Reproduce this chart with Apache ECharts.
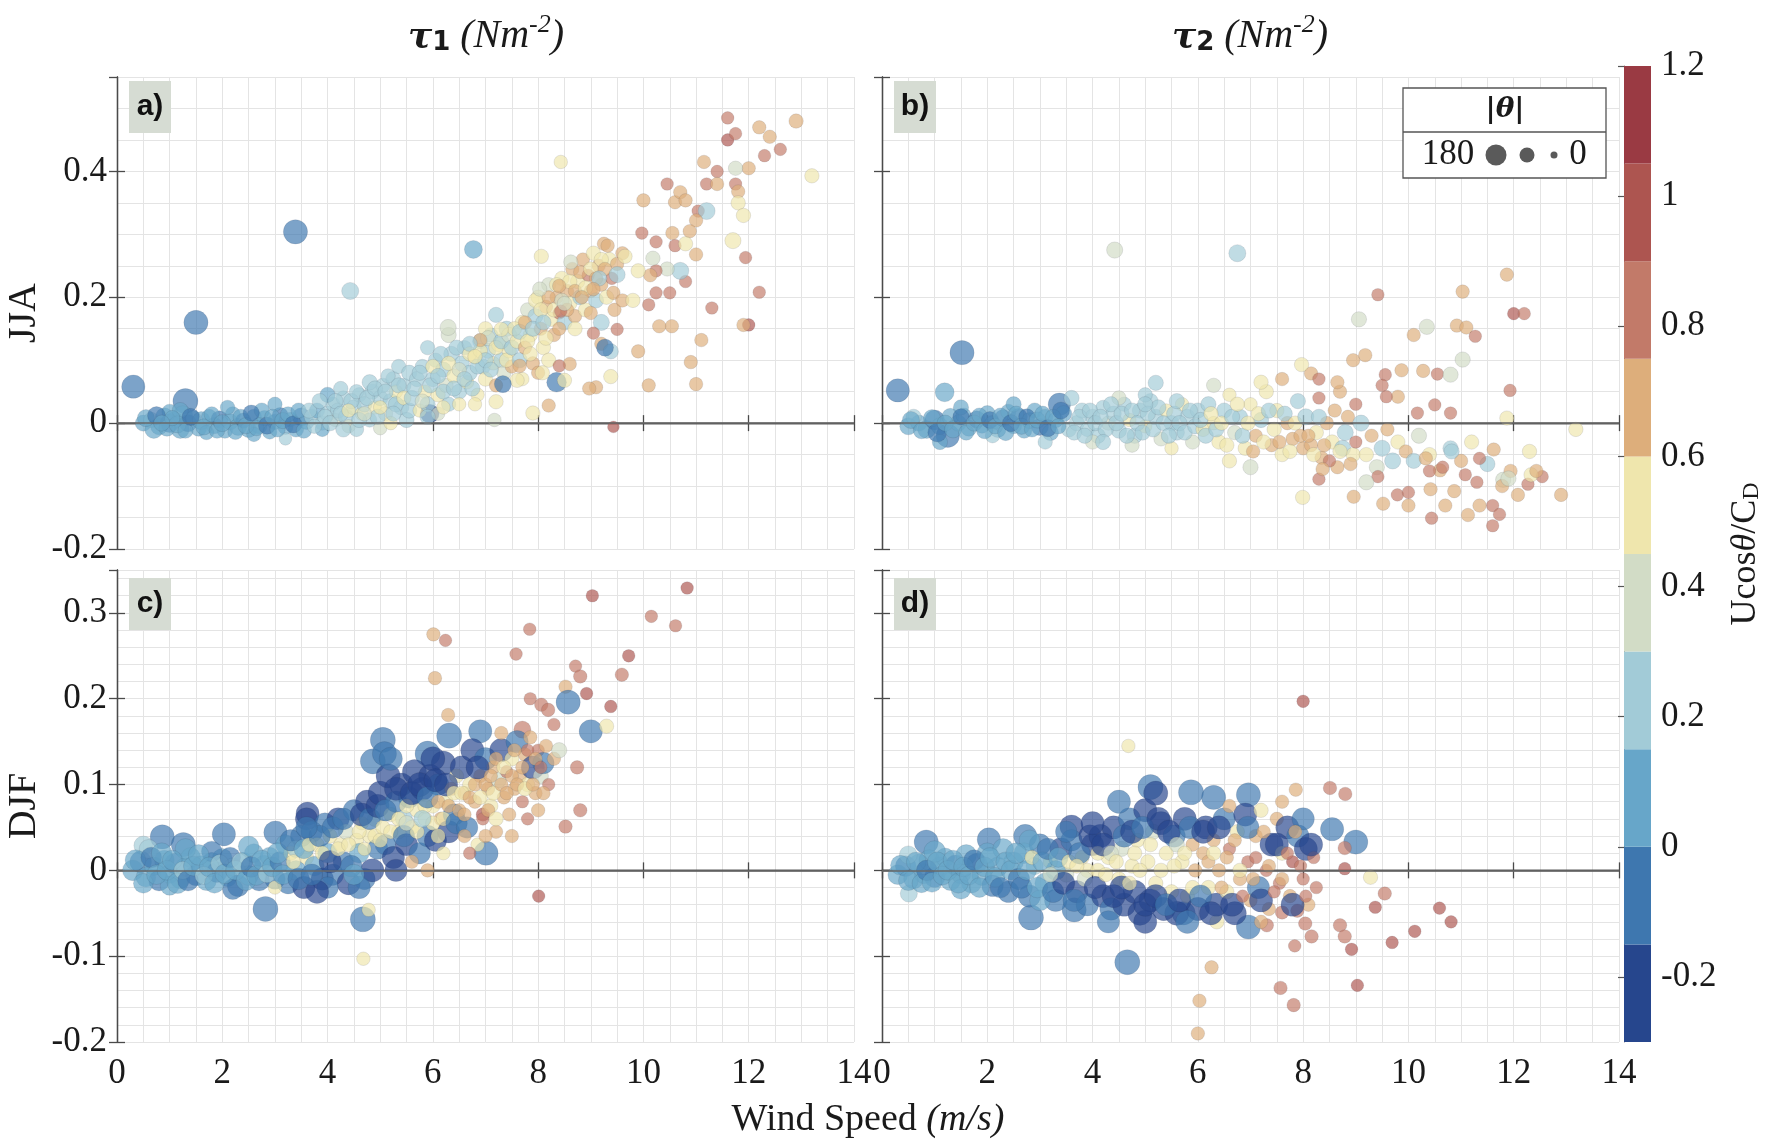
<!DOCTYPE html>
<html>
<head>
<meta charset="UTF-8">
<title>Wind stress vs wind speed</title>
<script src="https://cdn.jsdelivr.net/npm/echarts@6/dist/echarts.min.js"></script>
<style>
  html, body { margin: 0; padding: 0; background: #fff; }
  #chart { width: 1772px; height: 1146px; }
</style>
</head>
<body>
<div id="chart"></div>
<script>
// every point: [wind speed (m/s), stress (N m-2), Ucos(theta)/Cd, |theta| (deg)]
const jjaTau1 = [
  [0.31,0.058,-0.04,150],[1.3,0.035,-0.03,170],[1.5,0.16,-0.05,160],[3.39,0.304,-0.12,160],[6.77,0.276,0.12,90],
  [4.43,0.21,0.22,80],[5.94,0.015,-0.25,100],[8.35,0.065,-0.1,110],[8.43,0.415,0.52,40],[9.43,-0.006,0.9,20],[13.2,0.393,0.52,50],
  [0.5,0,0.07,70],[0.65,0.005,0.22,60],[0.8,-0.005,0.07,80],[0.9,0.01,0.07,90],[1.0,0,-0.07,100],[1.1,0.005,0.07,70],
  [1.2,-0.01,0.07,90],[1.25,0.012,0.07,110],[1.35,0,-0.07,80],[1.45,0.008,0.07,60],[1.55,-0.008,0.07,70],[1.6,0.004,0.07,90],
  [1.75,0.01,0.07,60],[1.85,-0.004,0.07,70],[1.95,0.006,-0.07,80],[2.05,-0.012,0.07,60],[2.15,0.002,0.07,70],[2.2,0.014,0.07,60],
  [2.3,-0.006,0.07,80],[2.4,0.004,-0.07,60],[2.5,-0.01,0.07,70],[2.6,0.01,0.07,60],[2.7,-0.004,0.07,70],[2.8,0.008,0.07,60],
  [2.9,-0.014,0.07,50],[3.0,0.002,0.07,60],[3.1,0.012,-0.07,70],[3.2,-0.006,0.07,60],[3.3,0.006,0.07,50],[3.4,-0.01,0.07,60],
  [3.5,0.01,-0.07,90],[3.6,0.002,0.07,60],[2.1,0.025,0.07,50],[1.0,0.018,0.07,60],[3.2,-0.025,0.22,30],[1.7,-0.015,0.07,50],
  [2.6,-0.018,0.07,50],[3.0,0.03,0.07,50],[2.75,0.02,0.07,60],[1.2,0.02,0.07,70],[0.7,-0.01,0.07,90],
  [0.55,0.008,0.07,80],[0.75,0.012,-0.07,90],[0.95,-0.008,0.07,70],[1.15,-0.002,0.07,80],[1.3,-0.012,0.07,60],[1.4,0.01,-0.07,80],
  [1.65,-0.006,0.07,70],[1.8,0.014,0.07,60],[1.9,-0.012,0.07,60],[2.0,0.0,0.07,80],[2.25,-0.014,0.07,60],[2.35,0.01,0.07,60],
  [2.45,-0.004,0.07,70],[2.55,0.016,-0.07,70],[2.65,-0.008,0.07,60],[2.85,-0.004,-0.07,80],[2.95,0.01,0.07,60],[3.05,-0.01,0.07,60],
  [3.15,0.004,0.07,70],[3.25,0.014,0.07,60],[3.35,-0.002,-0.07,80],[3.45,0.02,0.07,60],[3.55,-0.012,0.07,60],[1.05,0.008,0.07,60],
  [0.85,0.0,0.07,70],
  [3.7,0.01,0.22,60],[3.8,0.02,0.07,60],[3.9,0.0,0.22,50],[4.0,0.015,0.22,60],[4.1,0.03,0.22,50],[4.15,0.005,0.37,40],
  [4.2,0.02,0.22,60],[4.3,0.04,0.22,50],[4.35,0.01,0.22,60],[4.4,-0.005,0.37,40],[4.5,0.025,0.22,60],[4.6,0.045,0.22,50],
  [4.65,0.015,0.52,40],[4.7,0.03,0.22,60],[4.8,0.005,0.22,50],[4.85,0.05,0.22,60],[4.9,0.025,0.52,40],[5.0,0.04,0.22,60],
  [5.05,0.06,0.22,50],[5.1,0.015,0.37,50],[5.2,0.035,0.22,60],[5.25,0.07,0.22,60],[5.3,0.05,0.52,40],[5.4,0.025,0.22,60],
  [5.45,0.06,0.22,50],[5.5,0.005,0.22,60],[4.0,0.045,0.07,60],[4.8,0.065,0.22,60],[4.25,0.055,0.22,50],[3.9,-0.01,0.07,50],
  [4.55,-0.01,0.22,50],[5.0,-0.008,0.37,40],[5.2,0.0,0.52,40],[5.35,0.09,0.22,50],
  [3.65,0.02,0.22,60],[3.75,-0.005,0.22,50],[3.85,0.035,0.22,60],[3.95,0.01,0.22,60],[4.05,0.0,0.22,60],[4.15,0.035,0.22,60],
  [4.25,0.015,0.22,60],[4.45,0.035,0.22,60],[4.55,0.05,0.22,50],[4.6,0.005,0.22,60],[4.75,0.04,0.22,60],[4.9,0.055,0.22,60],
  [4.95,0.01,0.22,60],[5.1,0.05,0.22,60],[5.15,0.075,0.22,50],[5.3,0.03,0.22,60],[5.35,0.06,0.22,60],[5.45,0.04,0.52,50],
  [5.55,0.02,0.22,60],[5.55,0.08,0.22,60],[4.4,0.02,0.52,40],[4.7,0.015,0.37,50],[5.0,0.025,0.52,40],[4.3,-0.01,0.22,60],
  [5.25,0.015,0.22,60],
  [5.6,0.04,0.22,60],[5.7,0.07,0.22,60],[5.75,0.02,0.52,40],[5.8,0.09,0.22,50],[5.85,0.05,0.52,40],[5.9,0.03,0.22,60],
  [6.0,0.07,0.22,60],[6.05,0.1,0.22,50],[6.1,0.045,0.52,50],[6.2,0.085,0.22,60],[6.25,0.06,0.37,50],[6.3,0.03,0.22,50],
  [6.35,0.11,0.22,60],[6.4,0.075,0.52,50],[6.5,0.05,0.22,60],[6.55,0.095,0.22,60],[6.6,0.12,0.22,50],[6.65,0.065,0.52,40],
  [6.7,0.08,0.22,60],[6.8,0.105,0.52,50],[6.85,0.045,0.52,40],[6.9,0.13,0.22,60],[6.95,0.09,0.22,60],[7.0,0.07,0.52,50],
  [7.05,0.115,0.22,60],[7.1,0.14,0.22,50],[7.15,0.095,0.52,40],[7.2,0.06,0.67,40],[7.25,0.125,0.52,50],[7.3,0.1,0.22,60],
  [7.35,0.08,0.37,50],[7.4,0.15,0.22,60],[7.45,0.115,0.52,50],[7.5,0.09,0.67,40],[6.3,0.14,0.37,60],[5.9,0.12,0.22,50],
  [6.8,0.03,0.52,40],[6.1,0.015,0.37,40],[7.0,0.15,0.52,50],
  [5.65,0.055,0.22,60],[5.75,0.08,0.22,60],[5.8,0.035,0.37,50],[5.95,0.06,0.22,60],[6.0,0.09,0.52,50],[6.1,0.075,0.22,60],
  [6.15,0.11,0.22,60],[6.2,0.05,0.22,60],[6.3,0.095,0.52,50],[6.4,0.055,0.22,60],[6.45,0.12,0.22,60],[6.5,0.085,0.37,50],
  [6.6,0.07,0.22,60],[6.7,0.11,0.52,50],[6.75,0.055,0.22,60],[6.85,0.09,0.22,60],[6.9,0.115,0.52,50],[7.0,0.1,0.22,60],
  [7.05,0.135,0.37,60],[7.1,0.085,0.22,60],[7.2,0.12,0.52,50],[7.3,0.13,0.22,60],[7.4,0.1,0.52,50],[7.45,0.14,0.37,60],
  [7.5,0.12,0.22,60],[6.5,0.03,0.52,40],[6.2,0.025,0.52,40],[5.9,0.01,0.22,60],
  [7.6,0.13,0.52,50],[7.65,0.1,0.22,60],[7.7,0.16,0.52,50],[7.75,0.12,0.67,40],[7.8,0.18,0.37,50],[7.85,0.14,0.52,50],
  [7.9,0.095,0.67,40],[7.95,0.17,0.22,60],[8.0,0.2,0.52,50],[8.05,0.15,0.67,40],[8.1,0.12,0.52,50],[8.15,0.185,0.67,40],
  [8.2,0.22,0.37,50],[8.25,0.165,0.52,50],[8.3,0.14,0.67,40],[8.35,0.2,0.67,40],[8.4,0.175,0.82,30],[8.45,0.23,0.52,50],
  [8.5,0.16,0.22,60],[8.55,0.21,0.67,40],[8.6,0.19,0.52,50],[8.65,0.245,0.67,40],[8.7,0.17,0.67,40],[8.75,0.225,0.52,50],
  [8.8,0.2,0.22,60],[8.85,0.26,0.67,40],[8.9,0.18,0.52,50],[8.95,0.235,0.82,30],[9.0,0.21,0.67,40],[9.05,0.27,0.52,50],
  [9.1,0.195,0.22,60],[9.15,0.25,0.67,40],[9.2,0.22,0.67,40],[9.25,0.285,0.67,40],[9.3,0.2,0.52,50],[9.35,0.26,0.52,50],
  [9.4,0.23,0.82,30],[9.45,0.18,0.67,40],[8.2,0.1,0.52,50],[8.0,0.08,0.67,40],[7.7,0.07,0.52,40],
  [7.55,0.15,0.52,50],[7.65,0.145,0.22,60],[7.75,0.16,0.67,40],[7.8,0.13,0.52,50],[7.9,0.15,0.22,60],[7.95,0.195,0.52,50],
  [8.05,0.18,0.52,50],[8.1,0.16,0.22,60],[8.2,0.2,0.67,40],[8.3,0.18,0.52,50],[8.35,0.22,0.52,50],[8.45,0.195,0.37,50],
  [8.55,0.18,0.67,40],[8.6,0.225,0.52,50],[8.7,0.21,0.67,40],[8.8,0.24,0.67,40],[8.9,0.215,0.52,50],[9.0,0.245,0.52,50],
  [9.1,0.23,0.67,40],[9.2,0.26,0.52,50],[8.15,0.135,0.52,50],[8.4,0.15,0.67,40],[8.7,0.15,0.52,50],[9.0,0.175,0.67,40],
  [9.2,0.16,0.22,70],[7.85,0.11,0.52,50],
  [11.6,0.485,0.82,30],[11.6,0.45,0.97,30],[11.75,0.46,0.82,30],[12.2,0.47,0.67,40],[12.4,0.455,0.67,40],[12.9,0.48,0.67,50],
  [12.6,0.435,0.82,30],[12.3,0.425,0.82,30],[12.0,0.405,0.67,40],[11.75,0.405,0.37,50],[11.15,0.415,0.67,40],[11.4,0.4,0.82,30],
  [11.2,0.38,0.82,30],[11.4,0.38,0.67,40],[11.75,0.38,0.82,30],[11.8,0.368,0.67,40],[11.8,0.35,0.52,50],[11.9,0.33,0.52,50],
  [11.7,0.29,0.52,70],[11.94,0.263,0.82,30],[12.2,0.208,0.82,30],[12.0,0.156,0.97,30],[11.9,0.156,0.67,40],[11.3,0.183,0.82,30],
  [11.1,0.132,0.67,40],[10.9,0.097,0.67,40],[11.0,0.062,0.67,40],[10.1,0.06,0.67,40],[10.54,0.154,0.67,40],[10.3,0.154,0.67,40],
  [10.8,0.225,0.82,30],[10.5,0.207,0.82,30],[10.24,0.207,0.82,30],[10.1,0.188,0.82,30],[9.97,0.302,0.82,30],[10.0,0.354,0.67,40],
  [10.45,0.38,0.82,30],[10.6,0.351,0.67,40],[10.7,0.367,0.67,40],[10.8,0.354,0.67,40],[10.55,0.302,0.67,40],[10.6,0.282,0.82,30],
  [10.24,0.288,0.82,30],[11.04,0.337,0.82,30],[11.2,0.337,0.22,80],[11.0,0.322,0.67,40],[10.88,0.305,0.67,40],[10.8,0.285,0.52,50],
  [11.0,0.268,0.67,40],[10.7,0.242,0.22,80],[10.45,0.245,0.37,50],[10.24,0.242,0.82,30],[10.13,0.235,0.67,40],[9.6,0.27,0.67,40],
  [9.32,0.282,0.67,40],[9.5,0.253,0.67,40],[9.65,0.265,0.52,50],[9.9,0.242,0.52,50],[10.18,0.262,0.37,50],[8.62,0.256,0.37,50],
  [8.06,0.265,0.52,50],[9.27,0.245,0.67,40],[9.16,0.23,0.22,60],[9.5,0.236,0.22,70],[9.43,0.207,0.67,40],[9.6,0.195,0.67,40],
  [9.8,0.195,0.52,50],[9.05,0.213,0.67,40],[8.4,0.218,0.67,40],[8.43,0.178,0.82,30],[9.05,0.143,0.82,30],[9.5,0.149,0.82,30],
  [9.2,0.126,0.67,40],[9.38,0.114,0.22,60],[9.27,0.12,-0.1,80],[9.9,0.114,0.67,40],[9.38,0.074,0.52,50],[9.1,0.057,0.67,40],
  [8.97,0.055,0.67,40],[8.2,0.028,0.67,40],[7.9,0.016,0.52,50],[8.08,0.08,0.52,50],[8.5,0.068,0.52,50],[8.6,0.094,0.67,40],
  [8.4,0.091,0.82,30],[7.65,0.091,0.67,40],[7.6,0.068,0.52,50],[7.33,0.062,-0.07,80],[7.17,0.005,0.37,40],[7.2,0.034,0.52,50],
  [6.9,0.132,0.67,40],[7.2,0.172,0.22,60],[7.3,0.149,0.52,50],[8.83,0.2,0.67,40],[8.5,0.19,0.37,50],[8.03,0.213,0.37,50],
  [6.29,0.152,0.37,70],[6.7,0.126,0.22,60],[6.8,0.106,0.52,50]
];

const jjaTau2 = [
  [4.42,0.275,0.3,70],[6.75,0.27,0.15,80],[1.52,0.112,-0.05,160],[0.3,0.052,-0.04,150],[1.19,0.049,0.07,100],
  [5.2,0.064,0.15,60],[3.37,0.03,-0.1,140],
  [0.5,-0.005,0.07,80],[0.7,0.0,0.07,70],[0.85,-0.01,0.07,90],[1.0,0.005,-0.07,110],[1.1,-0.005,0.07,80],[1.25,-0.02,-0.07,150],
  [1.3,0.01,0.07,80],[1.45,0.0,0.07,70],[1.55,0.012,0.07,60],[1.65,-0.008,0.07,70],[1.8,0.006,-0.07,80],[1.9,-0.004,0.07,60],
  [2.0,0.015,0.07,70],[2.1,0.0,0.07,60],[2.2,-0.01,0.07,70],[2.3,0.008,-0.07,80],[2.4,0.018,0.07,60],[2.5,-0.004,0.07,70],
  [2.6,0.01,-0.07,80],[2.7,-0.012,0.07,60],[2.8,0.004,0.07,70],[2.9,0.02,0.07,60],[3.0,-0.006,-0.07,80],[3.1,0.01,0.07,60],
  [3.2,-0.015,0.07,70],[3.3,0.005,0.07,60],[3.45,0.015,0.07,70],[3.55,-0.01,0.22,60],[1.1,-0.03,0.07,60],[2.1,-0.02,0.22,50],
  [2.5,0.03,0.07,60],[3.1,-0.03,0.22,50],[1.5,0.025,0.07,60],[0.6,0.01,0.22,60],
  [0.55,0.005,0.07,80],[0.75,-0.012,0.07,70],[0.95,0.008,0.07,80],[1.05,-0.015,-0.07,100],[1.2,0.0,0.07,70],[1.35,-0.01,0.07,80],
  [1.5,0.01,-0.07,70],[1.6,-0.015,0.07,60],[1.75,0.0,0.07,70],[1.85,0.012,0.07,60],[1.95,-0.012,0.07,70],[2.05,0.005,-0.07,80],
  [2.15,-0.005,0.07,60],[2.25,0.012,0.07,60],[2.35,-0.015,0.07,70],[2.45,0.0,-0.07,80],[2.55,0.015,0.07,60],[2.65,-0.005,0.07,70],
  [2.75,0.01,-0.07,70],[2.85,-0.01,0.07,60],[2.95,0.005,0.07,70],[3.05,0.015,0.07,60],[3.15,-0.008,-0.07,80],[3.25,0.01,0.07,60],
  [3.35,-0.005,0.07,60],[3.4,0.02,-0.07,80],
  [3.7,0.0,0.22,60],[3.8,0.02,0.22,60],[3.9,-0.01,0.22,50],[4.0,0.01,0.22,60],[4.1,-0.02,0.22,60],[4.2,0.025,0.22,50],
  [4.3,0.0,0.37,50],[4.4,0.015,0.22,60],[4.5,-0.012,0.22,60],[4.6,0.03,0.22,50],[4.7,0.005,0.52,40],[4.8,-0.02,0.22,60],
  [4.9,0.02,0.22,60],[5.0,-0.005,0.52,40],[5.1,0.035,0.22,60],[5.2,0.01,0.22,60],[5.3,-0.025,0.37,50],[5.4,0.02,0.52,40],
  [5.5,0.0,0.22,60],[5.6,-0.015,0.22,60],[5.7,0.03,0.52,40],[5.8,0.01,0.22,60],[5.9,-0.03,0.37,50],[6.0,0.02,0.22,60],
  [4.5,0.04,0.37,50],[4.0,-0.03,0.37,50],[5.0,0.045,0.22,50],[5.5,-0.04,0.52,40],[4.75,-0.035,0.37,50],[3.6,0.04,0.22,60],
  [3.65,-0.015,0.22,60],[3.75,0.01,0.22,60],[3.85,-0.02,0.22,60],[3.95,0.02,0.22,60],[4.05,0.0,0.22,60],[4.15,0.01,0.22,60],
  [4.25,-0.01,0.22,60],[4.35,0.03,0.22,60],[4.45,0.0,0.22,60],[4.55,0.015,0.22,60],[4.65,-0.02,0.22,60],[4.75,0.02,0.22,60],
  [4.85,0.0,0.22,60],[4.95,-0.015,0.22,60],[5.05,0.015,0.22,60],[5.15,-0.01,0.22,60],[5.25,0.025,0.22,60],[5.35,0.0,0.22,60],
  [5.45,-0.02,0.22,60],[5.55,0.015,0.22,60],[5.65,0.0,0.22,60],[5.75,-0.015,0.22,60],[5.85,0.02,0.22,60],[5.95,-0.005,0.22,60],
  [4.2,-0.03,0.22,60],[5.0,0.03,0.22,60],[5.6,0.035,0.22,60],
  [6.1,-0.01,0.52,50],[6.2,0.03,0.22,60],[6.3,0.0,0.52,40],[6.4,-0.03,0.52,50],[6.5,0.02,0.22,60],[6.6,0.045,0.52,40],
  [6.7,-0.015,0.37,50],[6.8,0.01,0.22,60],[6.9,-0.04,0.52,50],[7.0,0.03,0.52,40],[7.1,-0.02,0.67,40],[7.2,0.005,0.22,60],
  [7.3,0.05,0.52,50],[7.4,-0.035,0.67,40],[7.5,0.02,0.52,50],[7.6,-0.05,0.52,50],[7.7,0.0,0.67,40],[7.8,-0.025,0.67,40],
  [7.9,0.035,0.22,60],[8.0,-0.04,0.67,40],[6.6,-0.06,0.52,50],[7.0,-0.07,0.37,60],[7.2,0.065,0.52,50],[6.3,0.06,0.37,50],
  [7.6,0.07,0.67,40],
  [6.05,0.005,0.22,60],[6.15,-0.02,0.22,60],[6.25,0.015,0.52,50],[6.35,-0.01,0.22,60],[6.45,0.0,0.52,50],[6.55,-0.035,0.52,50],
  [6.65,0.01,0.22,60],[6.75,0.03,0.52,50],[6.85,-0.02,0.22,60],[6.95,0.0,0.52,50],[7.05,-0.045,0.67,40],[7.15,0.015,0.52,50],
  [7.25,-0.03,0.52,50],[7.35,0.02,0.22,60],[7.45,-0.01,0.52,50],[7.55,-0.03,0.67,40],[7.65,0.015,0.22,60],[7.75,-0.045,0.52,50],
  [7.85,0.0,0.52,50],[7.95,-0.02,0.67,40],[8.05,0.01,0.22,70],[8.15,-0.035,0.67,40],[8.25,-0.015,0.52,50],[8.35,-0.055,0.67,40],
  [8.45,0.0,0.67,40],[8.55,-0.03,0.52,50],[8.65,-0.07,0.67,40],[8.75,-0.04,0.22,70],[8.85,0.01,0.67,40],[8.95,-0.05,0.52,50],
  [8.1,-0.02,0.67,40],[8.2,-0.05,0.52,50],[8.3,0.01,0.22,60],[8.4,-0.035,0.67,40],[8.5,-0.06,0.82,30],[8.6,0.02,0.67,40],
  [8.7,-0.045,0.52,50],[8.8,-0.015,0.22,70],[8.9,-0.065,0.67,40],[9.0,-0.03,0.82,30],[9.1,0.0,0.22,70],[9.2,-0.05,0.52,50],
  [9.3,-0.02,0.67,40],[9.4,-0.07,0.37,60],[9.5,-0.04,0.22,70],[9.6,-0.01,0.67,40],[9.7,-0.06,0.22,70],[9.8,-0.03,0.52,50],
  [9.95,-0.045,0.67,40],[10.1,-0.06,0.22,60],[10.2,-0.02,0.37,60],[10.4,-0.05,0.52,50],[10.6,-0.075,0.67,40],[10.8,-0.04,0.22,60],
  [11.0,-0.06,0.67,40],[11.2,-0.03,0.52,50],[11.5,-0.065,0.22,60],[11.8,-0.09,0.37,60],[12.3,-0.045,0.52,50],[8.3,0.04,0.82,30],
  [8.7,0.05,0.67,40],[9.0,0.03,0.82,30],
  [11.87,0.236,0.67,40],[9.42,0.204,0.82,30],[11.03,0.209,0.67,40],[12.0,0.174,0.97,30],[12.2,0.174,0.82,30],[9.06,0.165,0.37,60],
  [10.35,0.153,0.37,60],[10.92,0.155,0.67,40],[11.1,0.152,0.67,40],[11.27,0.138,0.82,30],[10.1,0.14,0.67,40],[11.03,0.101,0.37,60],
  [8.95,0.1,0.67,40],[9.18,0.108,0.67,40],[8.15,0.079,0.67,40],[7.97,0.093,0.52,50],[9.56,0.077,0.82,30],[9.87,0.084,0.67,40],
  [10.28,0.083,0.67,40],[10.55,0.078,0.82,30],[10.8,0.077,0.37,60],[8.3,0.07,0.82,30],[8.65,0.065,0.67,40],[9.5,0.06,0.82,30],
  [9.8,0.042,0.67,40],[11.93,0.052,0.82,30],[11.87,0.008,0.52,50],[13.18,-0.01,0.52,50],[10.8,0.016,0.82,30],[10.17,0.016,0.82,30],
  [10.5,0.029,0.82,30],[9.58,0.042,0.82,30],
  [12.54,-0.085,0.82,30],[12.27,-0.097,0.82,30],[12.9,-0.114,0.67,40],[11.78,-0.1,0.67,40],[11.6,-0.131,0.82,30],[11.73,-0.145,0.82,30],
  [11.6,-0.163,0.82,30],[11.35,-0.131,0.67,40],[11.13,-0.146,0.67,40],[10.44,-0.151,0.82,30],[10.7,-0.131,0.67,40],[10.87,-0.108,0.67,40],
  [11.08,-0.082,0.82,30],[11.3,-0.094,0.82,30],[11.94,-0.076,0.67,40],[12.08,-0.114,0.67,40],[12.33,-0.082,0.52,50],[10.42,-0.105,0.67,40],
  [10.0,-0.131,0.67,40],[9.79,-0.114,0.82,30],[9.52,-0.128,0.67,40],[9.42,-0.085,0.82,30],[10.0,-0.11,0.82,30],[9.2,-0.094,0.37,60],
  [7.99,-0.118,0.52,50],[8.3,-0.089,0.82,30],[8.37,-0.073,0.67,40],[8.96,-0.117,0.67,40],[10.4,-0.076,0.82,30],[10.65,-0.07,0.82,30],
  [10.33,-0.056,0.67,40],[10.82,-0.045,0.22,60],[11.35,-0.056,0.82,30],[11.62,-0.042,0.67,40],[11.9,-0.088,0.37,60],[12.43,-0.076,0.67,40]
];

const djfTau1 = [
  [10.83,0.329,0.97,30],[9.03,0.32,0.97,30],[10.15,0.296,0.82,30],[10.61,0.285,0.82,30],[7.84,0.281,0.82,30],[6.01,0.275,0.67,40],
  [6.24,0.268,0.82,30],[7.58,0.252,0.82,30],[9.72,0.25,0.97,30],[8.71,0.238,0.82,30],[9.59,0.228,0.82,40],[8.8,0.226,0.82,40],
  [6.04,0.224,0.67,40],[8.52,0.214,0.67,40],[8.92,0.206,0.97,30],[7.85,0.2,0.82,30],[8.57,0.196,-0.1,160],[9.38,0.191,0.97,30],
  [8.06,0.193,0.82,40],[8.19,0.187,0.82,40],[6.29,0.181,0.67,40],[9.0,0.162,-0.1,150],[9.3,0.168,0.52,50],[5.05,0.152,-0.1,170],
  [6.31,0.157,-0.1,170],[4.86,0.127,-0.1,170],[5.08,0.136,-0.1,160],[5.9,0.136,-0.1,170],[6.9,0.162,-0.1,150],[7.7,0.164,0.82,80],
  [8.74,0.12,0.82,40],[8.8,0.07,0.82,40],[8.52,0.051,0.82,40],[8.01,-0.03,0.97,30],[2.82,-0.045,-0.05,170],[4.67,-0.057,-0.12,170],
  [4.78,-0.046,0.52,40],[4.68,-0.103,0.52,40],[3.62,0.066,-0.22,150],[3.6,0.06,-0.22,140],[0.86,0.039,-0.05,160],[1.26,0.03,-0.05,160],
  [2.03,0.042,-0.05,150],[3.01,0.044,-0.05,150],[0.5,0.029,0.22,100],[7.01,0.02,-0.1,160],[6.95,0.065,0.97,40],
  [0.3,0.0,0.07,120],[0.45,0.01,-0.07,130],[0.55,-0.008,0.07,110],[0.7,0.005,0.07,100],[0.8,-0.012,-0.07,120],[0.9,0.012,0.07,110],
  [1.0,-0.004,0.07,100],[1.1,0.008,-0.07,120],[1.2,-0.01,0.07,110],[1.3,0.004,0.07,100],[1.4,0.015,0.07,110],[1.5,-0.006,-0.07,120],
  [1.6,0.006,0.07,100],[1.7,-0.012,0.07,110],[1.8,0.01,0.07,100],[1.9,-0.002,-0.07,120],[2.0,0.014,0.07,110],[2.1,-0.008,0.07,100],
  [2.2,0.004,0.22,90],[2.3,-0.018,-0.07,130],[2.4,0.01,0.07,100],[2.5,-0.006,0.07,110],[2.6,0.02,0.07,100],[2.7,-0.012,-0.07,120],
  [2.8,0.006,0.07,110],[2.9,0.016,0.07,100],[3.0,-0.01,-0.07,120],[1.3,0.025,0.07,120],[0.6,0.025,0.22,100],[1.8,0.022,-0.07,120],
  [2.5,0.028,0.07,120],[2.2,-0.022,-0.07,120],[1.0,-0.018,0.07,100],
  [0.35,0.012,0.07,120],[0.5,-0.015,0.07,110],[0.65,0.015,-0.07,120],[0.75,-0.005,0.07,110],[0.85,0.02,0.07,120],[0.95,0.0,0.07,110],
  [1.05,0.012,0.07,110],[1.15,-0.015,0.07,120],[1.25,0.0,0.22,90],[1.35,-0.012,-0.07,120],[1.45,0.005,0.07,110],[1.55,0.018,0.07,120],
  [1.65,-0.006,0.22,90],[1.75,0.004,0.07,110],[1.85,-0.015,0.07,110],[1.95,0.008,0.22,90],[2.05,-0.004,0.07,110],[2.15,0.015,-0.07,120],
  [2.25,0.0,0.07,110],[2.35,0.01,0.22,90],[2.45,-0.012,0.07,110],[2.55,0.004,-0.07,120],[2.65,-0.006,0.07,110],[2.75,0.012,0.07,110],
  [2.85,-0.004,0.22,90],[2.95,0.004,0.07,110],
  [3.1,0.01,-0.07,120],[3.2,0.03,0.07,110],[3.25,-0.015,-0.07,130],[3.3,0.02,0.52,50],[3.4,0.0,0.07,110],[3.5,0.04,-0.07,130],
  [3.55,-0.02,-0.22,140],[3.6,0.015,0.52,50],[3.7,0.045,-0.07,130],[3.75,0.005,0.07,110],[3.8,0.03,0.52,50],[3.9,-0.01,-0.22,140],
  [3.95,0.055,-0.07,120],[4.0,0.02,0.07,110],[4.05,0.04,0.52,50],[4.1,-0.005,-0.07,130],[4.2,0.06,-0.22,140],[4.25,0.03,0.52,50],
  [4.3,0.01,-0.07,120],[4.35,0.045,0.37,60],[4.4,-0.015,-0.22,150],[4.5,0.07,-0.07,130],[4.55,0.035,0.52,50],[4.6,0.02,0.07,110],
  [4.65,0.055,0.52,40],[4.7,-0.01,-0.07,130],[4.75,0.08,-0.22,150],[4.8,0.04,0.52,50],[4.85,0.0,-0.22,150],[4.9,0.06,0.37,60],
  [4.95,0.025,-0.07,120],[3.4,0.025,0.22,80],[4.0,-0.02,-0.07,130],[4.6,-0.02,-0.07,140],[3.0,-0.02,0.52,40],[3.8,-0.025,-0.22,150],
  [3.05,0.02,0.07,120],[3.15,-0.005,0.07,110],[3.3,0.035,-0.07,130],[3.35,0.01,0.52,50],[3.45,-0.01,-0.07,130],[3.55,0.025,0.07,110],
  [3.65,0.03,0.52,50],[3.7,-0.005,-0.07,130],[3.85,0.04,-0.07,130],[3.9,0.02,0.52,50],[4.05,0.01,-0.22,140],[4.1,0.05,-0.07,130],
  [4.2,0.025,0.52,50],[4.3,0.06,-0.07,130],[4.4,0.03,0.52,50],[4.45,0.005,-0.07,130],[4.6,0.045,0.52,50],[4.65,0.065,-0.22,150],
  [4.7,0.025,0.52,40],[4.8,0.06,-0.07,130],[4.9,0.04,0.52,50],[4.95,0.075,-0.22,150],[4.5,-0.005,0.07,120],[3.6,0.05,-0.07,130],
  [5.0,0.09,-0.22,160],[5.05,0.05,0.52,50],[5.1,0.03,-0.07,120],[5.15,0.11,-0.22,160],[5.2,0.065,0.52,50],[5.25,0.015,-0.22,140],
  [5.3,0.08,-0.07,130],[5.35,0.045,0.52,50],[5.4,0.1,-0.22,150],[5.45,0.06,0.22,80],[5.5,0.03,-0.22,140],[5.55,0.085,-0.07,130],
  [5.6,0.05,0.52,50],[5.65,0.115,-0.22,160],[5.7,0.07,0.52,50],[5.75,0.02,-0.07,130],[5.8,0.095,-0.22,150],[5.85,0.06,0.52,50],
  [5.9,0.04,-0.07,130],[5.95,0.11,-0.22,150],[6.0,0.075,0.52,50],[6.05,0.035,-0.22,140],[6.1,0.1,-0.07,130],[6.15,0.06,0.67,40],
  [6.2,0.125,-0.22,160],[6.25,0.08,0.52,50],[6.3,0.045,-0.22,140],[6.35,0.095,0.67,40],[6.4,0.065,-0.07,130],[6.45,0.11,0.52,50],
  [5.3,0.0,-0.22,140],[5.6,0.01,0.67,40],[5.9,0.0,0.67,40],[6.2,0.02,0.52,40],[5.2,0.13,-0.07,150],[6.0,0.13,-0.22,160],
  [5.0,0.035,0.52,50],[5.1,0.07,-0.07,130],[5.2,0.045,0.52,50],[5.3,0.095,-0.22,150],[5.35,0.06,0.52,50],[5.45,0.04,-0.07,130],
  [5.5,0.075,0.52,50],[5.6,0.09,-0.22,150],[5.7,0.045,0.52,50],[5.75,0.1,-0.22,160],[5.85,0.075,0.52,50],[5.9,0.085,-0.07,130],
  [6.0,0.055,0.52,50],[6.05,0.105,-0.22,150],[6.1,0.08,0.67,40],[6.2,0.06,0.52,50],[6.25,0.1,-0.22,150],[6.3,0.075,0.67,40],
  [6.4,0.09,0.52,50],[6.45,0.055,-0.07,130],[5.5,0.055,0.37,60],[5.8,0.06,0.22,80],[6.1,0.04,0.52,50],
  [6.5,0.07,0.67,40],[6.55,0.12,-0.22,150],[6.6,0.09,0.67,40],[6.65,0.05,-0.07,130],[6.7,0.1,0.52,50],[6.75,0.14,-0.22,150],
  [6.8,0.08,0.67,40],[6.85,0.03,0.52,40],[6.9,0.11,0.67,40],[6.95,0.06,0.82,30],[7.0,0.13,-0.07,140],[7.05,0.095,0.67,40],
  [7.1,0.075,0.52,50],[7.15,0.12,0.67,40],[7.2,0.045,0.67,40],[7.25,0.105,0.37,60],[7.3,0.14,-0.22,150],[7.35,0.085,0.67,40],
  [7.4,0.115,0.82,30],[7.45,0.065,0.67,40],[7.5,0.13,0.52,50],[7.55,0.095,0.67,40],[7.6,0.15,-0.07,140],[7.65,0.11,0.67,40],
  [7.7,0.08,0.82,30],[7.75,0.135,0.67,40],[7.8,0.1,0.52,50],[7.85,0.155,0.67,40],[7.9,0.12,-0.22,150],[7.95,0.09,0.67,40],
  [8.0,0.14,0.82,30],[8.05,0.11,0.37,60],[8.1,0.125,-0.07,130],[8.15,0.145,0.67,40],[8.2,0.1,0.82,30],[8.3,0.13,0.67,40],
  [7.0,0.04,0.67,40],[7.5,0.04,0.67,40],[7.8,0.06,0.82,30],[8.0,0.07,0.67,40],[6.7,0.02,0.82,30],[7.3,0.16,0.67,40],
  [8.3,0.17,0.82,30],[8.4,0.14,0.37,60],
  [6.55,0.09,0.52,50],[6.6,0.065,0.67,40],[6.7,0.085,0.67,40],[6.8,0.1,0.67,40],[6.85,0.12,-0.22,150],[6.9,0.085,0.52,50],
  [7.0,0.1,0.67,40],[7.05,0.07,0.67,40],[7.1,0.11,0.67,40],[7.15,0.09,0.52,50],[7.2,0.13,0.67,40],[7.3,0.1,0.67,40],
  [7.35,0.12,0.52,50],[7.4,0.09,0.67,40],[7.5,0.11,0.67,40],[7.55,0.14,0.67,40],[7.6,0.1,0.67,40],[7.7,0.12,0.67,40],
  [7.75,0.095,0.52,50],[7.8,0.14,0.82,30],[7.9,0.1,0.67,40],[7.95,0.13,0.67,40],[8.05,0.12,0.82,30],[8.1,0.09,0.67,40],
  [7.2,0.06,0.52,50],[6.6,0.04,0.67,40]
];

const djfTau2 = [
  [8.0,0.197,0.97,30],[4.68,0.145,0.52,40],[7.86,0.094,0.67,40],[8.51,0.096,0.82,40],[8.8,0.089,0.82,40],[5.1,0.097,-0.1,170],
  [5.87,0.091,-0.1,170],[6.3,0.085,-0.1,160],[6.96,0.088,-0.1,160],[3.6,0.051,-0.22,150],[2.72,0.04,-0.05,150],[2.03,0.036,-0.05,150],
  [0.84,0.033,-0.05,160],[8.55,0.048,-0.1,150],[9.0,0.033,-0.1,160],[8.79,0.026,0.82,40],[8.79,0.002,0.97,30],[9.28,-0.008,0.52,50],
  [9.55,-0.027,0.82,40],[9.37,-0.043,0.97,30],[10.59,-0.044,0.97,30],[10.81,-0.06,0.97,30],[10.12,-0.071,0.97,30],[9.69,-0.084,0.97,30],
  [8.7,-0.064,0.82,40],[8.79,-0.077,0.82,40],[8.92,-0.092,0.97,30],[7.84,-0.088,0.82,30],[8.16,-0.077,0.82,40],[6.96,-0.066,-0.1,160],
  [7.31,-0.064,0.82,40],[7.6,-0.049,0.82,40],[7.89,-0.047,0.82,40],[8.04,-0.062,0.82,40],[6.36,-0.06,0.52,50],[4.66,-0.107,-0.1,170],
  [6.26,-0.113,0.67,40],[7.57,-0.137,0.82,40],[9.03,-0.134,0.97,30],[7.82,-0.157,0.82,40],[6.03,-0.152,0.67,40],[6.0,-0.19,0.67,40],
  [0.51,-0.027,0.22,80],[3.65,-0.046,-0.05,160],[2.83,-0.055,-0.05,170],[5.73,-0.05,-0.1,150],
  [0.3,-0.005,0.07,110],[0.45,0.005,-0.07,120],[0.6,-0.01,0.07,110],[0.7,0.008,0.07,100],[0.8,-0.004,0.07,110],[0.9,0.012,0.07,120],
  [1.0,-0.008,-0.07,120],[1.1,0.004,0.07,110],[1.2,0.015,0.07,100],[1.3,-0.012,0.07,110],[1.4,0.006,-0.07,120],[1.5,-0.004,0.07,110],
  [1.6,0.018,0.07,120],[1.7,-0.015,0.07,110],[1.8,0.008,-0.07,120],[1.9,-0.006,0.07,110],[2.0,0.02,0.07,120],[2.1,-0.018,-0.07,130],
  [2.2,0.004,0.07,110],[2.3,0.025,0.07,120],[2.4,-0.025,-0.07,130],[2.5,0.01,0.07,110],[1.0,0.022,0.07,130],[1.5,-0.022,0.07,110],
  [0.5,0.018,0.22,90],
  [0.35,0.006,0.07,110],[0.5,-0.012,0.07,110],[0.65,0.01,0.07,110],[0.75,-0.015,0.07,100],[0.85,0.0,-0.07,120],[0.95,-0.014,0.07,110],
  [1.05,0.01,0.07,110],[1.15,-0.006,0.07,100],[1.25,0.0,0.07,110],[1.35,0.012,0.07,110],[1.45,-0.015,0.07,110],[1.55,0.004,0.07,110],
  [1.65,-0.006,0.07,100],[1.75,0.012,-0.07,120],[1.85,-0.02,0.07,110],[1.95,0.004,0.07,110],[2.05,0.015,0.07,110],[2.15,-0.008,0.07,110],
  [2.25,-0.02,-0.07,120],[2.35,0.01,0.07,110],[2.45,0.0,0.07,110],
  [2.6,-0.01,-0.07,130],[2.7,0.02,0.07,120],[2.8,-0.03,-0.07,140],[2.9,0.005,0.22,80],[3.0,0.03,-0.07,130],[3.1,-0.015,0.07,120],
  [3.2,0.01,0.52,50],[3.3,-0.035,-0.07,140],[3.4,0.025,-0.22,140],[3.5,-0.005,0.37,60],[3.6,0.035,-0.07,130],[3.7,-0.025,-0.22,140],
  [3.8,0.015,0.52,50],[3.9,-0.04,-0.07,140],[4.0,0.03,-0.22,140],[3.0,-0.035,0.07,120],[3.5,0.045,-0.07,130],[2.8,0.035,0.07,120],
  [3.3,0.0,0.07,110],[3.9,0.0,0.52,50],
  [2.55,0.02,0.07,120],[2.65,-0.02,-0.07,130],[2.75,0.0,0.07,110],[2.85,0.015,0.52,50],[2.95,-0.02,0.07,120],[3.05,0.01,0.07,110],
  [3.15,0.025,-0.07,130],[3.25,-0.025,-0.07,130],[3.35,0.015,0.07,110],[3.45,-0.015,-0.22,140],[3.55,0.01,0.52,50],[3.65,-0.035,-0.07,140],
  [3.75,0.02,-0.07,130],[3.85,-0.01,0.37,60],[3.95,0.04,-0.22,140],[3.2,-0.005,0.37,60],[3.7,0.005,0.52,50],
  [4.1,0.0,0.52,50],[4.15,0.04,-0.22,150],[4.2,-0.03,-0.22,150],[4.3,0.015,0.52,50],[4.35,-0.045,-0.07,140],[4.4,0.05,-0.22,150],
  [4.5,-0.01,0.52,50],[4.55,0.025,0.37,60],[4.6,-0.04,-0.22,150],[4.7,0.06,-0.07,140],[4.75,0.005,0.52,50],[4.8,-0.025,-0.22,150],
  [4.85,0.035,0.52,50],[4.9,-0.05,-0.22,160],[5.0,0.07,-0.22,150],[5.05,0.01,0.52,50],[5.1,-0.035,-0.22,150],[5.15,0.045,0.37,60],
  [5.2,-0.015,0.52,50],[5.3,0.055,-0.22,150],[5.35,-0.045,-0.22,150],[5.4,0.02,0.52,50],[5.5,-0.025,0.52,50],[5.55,0.04,-0.07,140],
  [5.6,-0.05,-0.22,160],[5.7,0.01,0.52,50],[5.75,0.06,-0.22,150],[5.8,-0.03,0.52,50],[5.9,0.03,0.67,40],[6.0,-0.045,-0.22,150],
  [4.5,0.08,-0.07,150],[5.2,0.09,-0.22,160],[4.3,-0.06,-0.07,140],[5.0,-0.06,-0.22,150],[4.0,0.055,-0.22,150],[5.8,-0.06,-0.07,150],
  [4.05,-0.02,-0.22,140],[4.1,0.02,0.52,50],[4.2,0.03,-0.22,150],[4.25,-0.005,0.52,50],[4.35,0.02,0.37,60],[4.4,-0.03,-0.22,150],
  [4.45,0.01,0.52,50],[4.55,-0.02,-0.22,150],[4.6,0.04,-0.07,140],[4.7,-0.015,0.52,50],[4.75,0.045,-0.22,150],[4.8,0.02,0.52,50],
  [4.9,0.0,0.52,50],[4.95,0.05,-0.07,140],[5.0,-0.04,-0.22,150],[5.1,0.03,0.52,50],[5.2,-0.03,-0.22,150],[5.25,0.06,-0.22,150],
  [5.3,0.0,0.52,50],[5.4,-0.04,-0.07,140],[5.45,0.045,-0.22,150],[5.55,0.005,0.52,50],[5.6,0.03,0.37,60],[5.65,-0.035,-0.22,150],
  [5.75,0.02,0.52,50],[5.85,0.05,-0.07,140],[5.9,-0.02,0.52,50],[5.95,0.0,0.67,40],
  [6.1,0.02,0.67,40],[6.15,0.05,-0.22,150],[6.2,-0.02,0.52,50],[6.3,0.035,0.67,40],[6.35,-0.04,-0.22,150],[6.4,0.0,0.67,40],
  [6.5,0.06,-0.07,140],[6.55,-0.025,0.52,50],[6.6,0.025,0.82,30],[6.7,-0.05,-0.22,150],[6.75,0.045,0.52,50],[6.8,-0.01,0.67,40],
  [6.9,0.065,-0.22,150],[6.95,0.01,0.82,30],[7.0,-0.035,0.67,40],[7.1,0.04,0.67,40],[7.15,-0.02,-0.07,140],[7.2,0.07,0.52,50],
  [7.3,0.0,0.82,30],[7.35,-0.045,0.67,40],[7.4,0.03,-0.22,150],[7.5,0.06,0.67,40],[7.55,-0.015,0.82,30],[7.6,0.02,0.52,50],
  [7.7,0.05,-0.22,150],[7.75,-0.03,0.67,40],[7.8,0.01,0.97,30],[7.9,0.04,-0.07,140],[8.0,-0.01,0.82,30],[8.05,0.025,-0.22,150],
  [8.1,-0.04,0.67,40],[8.2,0.015,0.82,30],[8.25,-0.02,0.82,30],[7.6,0.08,0.67,40],[7.2,-0.06,0.67,40],[6.6,0.075,0.67,40],
  [8.0,0.06,-0.07,140],
  [6.05,-0.03,-0.07,140],[6.1,0.045,-0.22,150],[6.2,0.01,0.67,40],[6.25,-0.05,-0.22,150],[6.3,0.02,0.52,50],[6.4,0.05,-0.22,150],
  [6.45,-0.02,0.67,40],[6.55,0.015,0.67,40],[6.65,-0.04,-0.22,150],[6.7,0.035,0.67,40],[6.8,0.0,0.52,50],[6.85,-0.03,0.82,30],
  [6.95,0.05,-0.07,140],[7.05,-0.01,0.67,40],[7.1,0.015,0.82,30],[7.2,-0.035,-0.22,150],[7.25,0.045,0.67,40],[7.35,0.005,0.67,40],
  [7.45,-0.025,0.82,30],[7.5,0.03,-0.22,150],[7.6,-0.01,0.67,40],[7.7,0.02,0.82,30],[7.8,-0.04,-0.22,150],[7.85,0.045,0.67,40],
  [7.95,0.005,0.82,30],[8.05,-0.03,0.82,30],[8.15,0.03,-0.22,150]
];

const xTickStep = 2;
const xGridStep = 0.5;
const colorBreaks = [-0.3, -0.15, 0, 0.15, 0.3, 0.45, 0.6, 0.75, 0.9, 1.05, 1.2];
const colorSteps = ['#26468d', '#3e77af', '#67a6c9', '#a2cbd7', '#d2dcc6', '#efe6ad', '#ddae7b', '#c27a69', '#ad5550', '#9a3a43'];
const colorbarTicks = [-0.2, 0, 0.2, 0.4, 0.6, 0.8, 1, 1.2];
const panelLetters = ['a)', 'b)', 'c)', 'd)'];

const serif = '"Liberation Serif", "DejaVu Serif", serif';
const tickFont = 35;
const frameColor = '#4a4a4a';

const panels = [
  { data: jjaTau1, left: 117, top: 77, yMin: -0.2, yMax: 0.55, yStep: 0.2, yGrid: 0.05, xLab: false, yLab: true },
  { data: jjaTau2, left: 882, top: 77, yMin: -0.2, yMax: 0.55, yStep: 0.2, yGrid: 0.05, xLab: false, yLab: false },
  { data: djfTau1, left: 117, top: 570, yMin: -0.2, yMax: 0.35, yStep: 0.1, yGrid: 0.02, xLab: true, yLab: true },
  { data: djfTau2, left: 882, top: 570, yMin: -0.2, yMax: 0.35, yStep: 0.1, yGrid: 0.02, xLab: true, yLab: false }
];
const panelW = 737, panelH = 472;

const chart = echarts.init(document.getElementById('chart'), null, { renderer: 'canvas' });

const grids = [], xAxes = [], yAxes = [], series = [];

function sizeOf(theta) { return 10 + theta / 180 * 16; }

panels.forEach((p, i) => {
  grids.push({ left: p.left, top: p.top, width: panelW, height: panelH });
  const line = { show: true, lineStyle: { color: frameColor, width: 1.3 } };
  const tick = { show: true, inside: true, length: 8, lineStyle: { color: frameColor, width: 1.3 } };
  // grid lines only
  xAxes.push({ gridIndex: i, type: 'value', min: 0, max: 14, interval: xGridStep, position: 'bottom',
    axisLine: line, axisTick: { show: false }, axisLabel: { show: false },
    splitLine: { show: true, lineStyle: { color: '#e4e4e4', width: 1 } } });
  // ticks and labels
  xAxes.push({ gridIndex: i, type: 'value', min: 0, max: 14, interval: xTickStep, position: 'bottom',
    axisLine: { show: false }, splitLine: { show: false }, axisTick: tick,
    axisLabel: { show: p.xLab, margin: 14, fontFamily: serif, fontSize: tickFont, color: '#1a1a1a' } });
  xAxes.push({ gridIndex: i, type: 'value', min: 0, max: 14, interval: xTickStep, position: 'top',
    axisLine: line, splitLine: { show: false }, axisLabel: { show: false }, axisTick: tick });

  yAxes.push({ gridIndex: i, type: 'value', min: p.yMin, max: p.yMax, interval: p.yGrid, position: 'left',
    axisLine: line, axisTick: { show: false }, axisLabel: { show: false },
    splitLine: { show: true, lineStyle: { color: '#e4e4e4', width: 1 } } });
  yAxes.push({ gridIndex: i, type: 'value', min: p.yMin, max: p.yMax, interval: p.yStep, position: 'left',
    axisLine: { show: false }, splitLine: { show: false }, axisTick: tick,
    axisLabel: { show: p.yLab, showMaxLabel: false, margin: 10, fontFamily: serif, fontSize: tickFont, color: '#1a1a1a' } });
  yAxes.push({ gridIndex: i, type: 'value', min: p.yMin, max: p.yMax, interval: p.yStep, position: 'right',
    axisLine: line, splitLine: { show: false }, axisLabel: { show: false }, axisTick: tick });

  series.push({
    type: 'scatter',
    xAxisIndex: i * 3 + 1,
    yAxisIndex: i * 3 + 1,
    data: p.data,
    symbolSize: d => sizeOf(d[3]),
    itemStyle: { opacity: 0.68, borderColor: 'rgba(40,40,60,0.2)', borderWidth: 0.8 },
    markLine: {
      silent: true, symbol: ['none', 'none'], label: { show: false },
      lineStyle: { color: '#6a6a6a', width: 1.6, type: 'solid' },
      data: [{ yAxis: 0 }]
    },
    z: 3
  });
});

// colour bar on its own grid
const cbGrid = grids.length;
const cbAxis = xAxes.length;
grids.push({ left: 1624, top: 66, width: 27, height: 976 });
xAxes.push({ gridIndex: cbGrid, type: 'value', min: 0, max: 1, show: false });
yAxes.push({ gridIndex: cbGrid, type: 'value', min: -0.3, max: 1.2, position: 'right',
  axisLine: { show: true, lineStyle: { color: '#777', width: 1 } }, splitLine: { show: false },
  axisTick: { show: true, inside: true, length: 6, customValues: colorbarTicks, lineStyle: { color: '#555', width: 1.2 } },
  axisLabel: { show: true, customValues: colorbarTicks, margin: 10, fontFamily: serif, fontSize: tickFont, color: '#1a1a1a' } });
series.push({
  type: 'custom',
  xAxisIndex: cbAxis,
  yAxisIndex: cbAxis,
  data: colorSteps.map((c, i) => [colorBreaks[i], colorBreaks[i + 1], i]),
  encode: { y: [0, 1] },
  renderItem: (params, api) => {
    const lo = api.coord([0, api.value(0)]);
    const hi = api.coord([1, api.value(1)]);
    return { type: 'rect', shape: { x: lo[0], y: hi[1], width: hi[0] - lo[0], height: lo[1] - hi[1] },
      style: { fill: colorSteps[api.value(2)] } };
  },
  silent: true
});

const graphics = [];
function textEl(x, y, style, rotation) {
  return { type: 'text', x: x, y: y, rotation: rotation || 0, z: 10,
    style: Object.assign({ align: 'center', verticalAlign: 'middle', fill: '#1a1a1a' }, style) };
}
const tauRich = {
  t: { fontFamily: '"DejaVu Serif", serif', fontStyle: 'italic', fontWeight: 'bold', fontSize: 36, verticalAlign: 'bottom', lineHeight: 44 },
  s: { fontFamily: '"DejaVu Sans", sans-serif', fontWeight: 'bold', fontSize: 26, verticalAlign: 'bottom', lineHeight: 12 },
  p: { fontFamily: serif, fontStyle: 'italic', fontSize: 40, verticalAlign: 'bottom', lineHeight: 44 },
  e: { fontFamily: serif, fontStyle: 'italic', fontSize: 26, verticalAlign: 'top', lineHeight: 22 }
};
graphics.push(textEl(486, 34, { text: '{t|τ}{s|1}{p| (Nm}{e|-2}{p|)}', rich: tauRich }));
graphics.push(textEl(1250, 34, { text: '{t|τ}{s|2}{p| (Nm}{e|-2}{p|)}', rich: tauRich }));
graphics.push(textEl(24, 313, { text: 'JJA', fontFamily: serif, fontSize: 40 }, Math.PI / 2));
graphics.push(textEl(24, 806, { text: 'DJF', fontFamily: serif, fontSize: 40 }, Math.PI / 2));
graphics.push(textEl(868, 1120, {
  text: '{n|Wind Speed }{i|(m/s)}',
  rich: { n: { fontFamily: serif, fontSize: 38 }, i: { fontFamily: serif, fontStyle: 'italic', fontSize: 38 } }
}));
graphics.push(textEl(1742, 554, {
  text: '{n|Ucos}{i|θ}{n|/C}{s|D}',
  rich: {
    n: { fontFamily: serif, fontSize: 36, verticalAlign: 'bottom', lineHeight: 44 },
    i: { fontFamily: serif, fontStyle: 'italic', fontSize: 36, verticalAlign: 'bottom', lineHeight: 44 },
    s: { fontFamily: serif, fontSize: 24, verticalAlign: 'bottom', lineHeight: 18 }
  }
}, Math.PI / 2));

// panel letters
panels.forEach((p, i) => {
  const bx = p.left + 12, by = p.top + (i < 2 ? 4 : 8);
  graphics.push({ type: 'rect', z: 10, shape: { x: bx, y: by, width: 42, height: 52 }, style: { fill: '#d6dcd3' } });
  graphics.push(textEl(bx + 21, by + 26, { text: panelLetters[i], fontFamily: '"Liberation Sans", sans-serif',
    fontWeight: 'bold', fontSize: 30, fill: '#111' }));
});

// |theta| size key in panel b
const lgX = 1403, lgY = 88, lgW = 203, lgH = 90;
graphics.push({ type: 'rect', z: 10, shape: { x: lgX, y: lgY, width: lgW, height: lgH },
  style: { fill: '#fff', stroke: '#555', lineWidth: 1.3 } });
graphics.push({ type: 'line', z: 11, shape: { x1: lgX, y1: lgY + 44, x2: lgX + lgW, y2: lgY + 44 },
  style: { stroke: '#555', lineWidth: 1.3 } });
graphics.push(textEl(lgX + 102, lgY + 22, { text: '|θ|', fontFamily: '"DejaVu Serif", serif', fontStyle: 'italic',
  fontWeight: 'bold', fontSize: 28 }));
graphics.push(textEl(lgX + 45, lgY + 67, { text: '180', fontFamily: serif, fontSize: tickFont }));
[[93, 10.5], [124, 7.5], [151, 3.5]].forEach(([dx, r]) => {
  graphics.push({ type: 'circle', z: 11, shape: { cx: lgX + dx, cy: lgY + 67, r: r }, style: { fill: '#5a5a5a' } });
});
graphics.push(textEl(lgX + 175, lgY + 67, { text: '0', fontFamily: serif, fontSize: tickFont }));

chart.setOption({
  animation: false,
  backgroundColor: '#ffffff',
  grid: grids,
  xAxis: xAxes,
  yAxis: yAxes,
  visualMap: {
    type: 'piecewise',
    show: false,
    dimension: 2,
    seriesIndex: [0, 1, 2, 3],
    pieces: colorSteps.map((c, i) => ({ gte: colorBreaks[i], lt: colorBreaks[i + 1], color: c }))
  },
  series: series,
  graphic: graphics
});
</script>
</body>
</html>
